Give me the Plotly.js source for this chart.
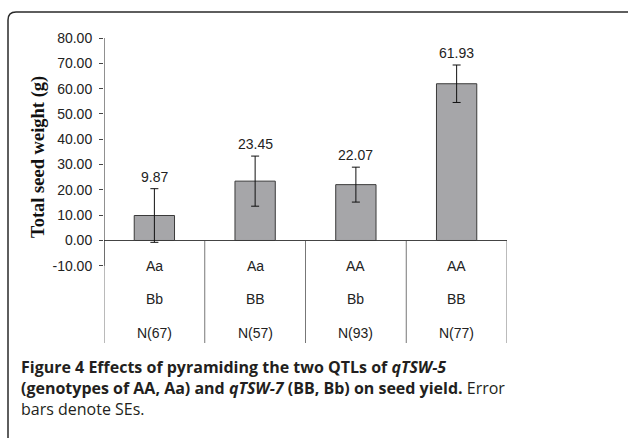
<!DOCTYPE html>
<html>
<head>
<meta charset="utf-8">
<script src="https://cdn.plot.ly/plotly-3.0.1.min.js"></script>
<style>
html,body{margin:0;padding:0;background:#fff;}
#chart{width:628px;height:438px;}
</style>
</head>
<body>
<div id="chart"></div>
<script>
// ---- data ----
var categories = ["Aa|Bb|N(67)", "Aa|BB|N(57)", "AA|Bb|N(93)", "AA|BB|N(77)"];
var genotypeA = ["Aa", "Aa", "AA", "AA"];
var genotypeB = ["Bb", "BB", "Bb", "BB"];
var sampleN = ["N(67)", "N(57)", "N(93)", "N(77)"];
var meanWeight = [9.87, 23.45, 22.07, 61.93];
var seWeight = [10.6, 9.9, 6.9, 7.4];
var yTickVals = [-10, 0, 10, 20, 30, 40, 50, 60, 70, 80];
var yTickText = yTickVals.map(function(v){ return v.toFixed(2); });

// ---- geometry (pixels) ----
var W = 628, H = 438;
var mL = 104, mR = 121, mT = 38, mB = 95;
var plotW = W - mL - mR, plotH = H - mT - mB;
var yMin = -40.5, yMax = 80;
function px2x(px){ return (px - mL) / plotW; }
function px2y(py){ return (H - mB - py) / plotH; }

var xIdx = categories.map(function(c, i){ return i; });

var trace = {
  type: "bar",
  x: xIdx,
  y: meanWeight,
  width: 0.4,
  marker: {color: "#a6a6a9", line: {color: "#3a3a3a", width: 1}},
  error_y: {type: "data", array: seWeight, visible: true, color: "#111", thickness: 1, width: 4},
  hoverinfo: "none"
};

var annotations = [];
var catFont = {family: "Liberation Sans, Arial, sans-serif", size: 14, color: "#222"};
var rowY = [-10, -23.2, -36.4];
var rows = [genotypeA, genotypeB, sampleN];
rows.forEach(function(row, r){
  row.forEach(function(t, i){
    annotations.push({x: i, y: rowY[r], xref: "x", yref: "y", text: t, showarrow: false,
      font: catFont, xanchor: "center", yanchor: "middle"});
  });
});
meanWeight.forEach(function(v, i){
  annotations.push({x: i, y: v + seWeight[i], xref: "x", yref: "y", text: v.toFixed(2),
    showarrow: false, font: catFont, xanchor: "center", yanchor: "bottom", yshift: 2});
});
// y title
annotations.push({x: px2x(38), y: px2y(157), xref: "paper", yref: "paper",
  text: "<b>Total seed weight (g)</b>", textangle: -90, showarrow: false,
  font: {family: "Liberation Serif, Times New Roman, serif", size: 18.5, color: "#111"},
  xanchor: "center", yanchor: "middle"});
// caption
var capFont = {family: "Open Sans, sans-serif", size: 16, color: "#231f20"};
var capLines = [
  "<b>Figure 4 Effects of pyramiding the two QTLs of <i>qTSW-5</i></b>",
  "<b>(genotypes of AA, Aa) and <i>qTSW-7</i> (BB, Bb) on seed yield.</b> Error",
  "bars denote SEs."
];
var capY = [367, 388, 409];
capLines.forEach(function(t, k){
  annotations.push({x: px2x(19), y: px2y(capY[k]), xref: "paper", yref: "paper", text: t,
    showarrow: false, font: capFont, xanchor: "left", yanchor: "middle", align: "left"});
});

var shapes = [];
// y axis line (dark) from -10 to 80
shapes.push({type: "line", xref: "x", yref: "y", x0: -0.5, x1: -0.5, y0: -10, y1: yMax,
  line: {color: "#222", width: 1}});
// table dividers
[-0.5, 0.5, 1.5, 2.5, 3.5].forEach(function(xb){
  shapes.push({type: "line", xref: "x", yref: "y", x0: xb, x1: xb, y0: 0, y1: yMin,
    line: {color: "#777", width: 1}, layer: "below"});
});
// frame with rounded corner
var fx = px2x(8), fy0 = px2y(445), fyc = px2y(20), fxc = px2x(16), fyt = px2y(12), fx1 = px2x(640), fxq = px2x(8);
shapes.push({type: "path", xref: "paper", yref: "paper",
  path: "M " + fx + "," + fy0 + " L " + fx + "," + fyc + " Q " + fxq + "," + fyt + " " + fxc + "," + fyt + " L " + fx1 + "," + fyt,
  line: {color: "#2a2a2a", width: 1.5}});

var layout = {
  width: W, height: H,
  margin: {l: mL, r: mR, t: mT, b: mB, pad: 0},
  paper_bgcolor: "#fff", plot_bgcolor: "rgba(0,0,0,0)",
  showlegend: false,
  xaxis: {range: [-0.5, 3.5], showticklabels: false, showgrid: false, zeroline: false,
    showline: false, ticks: "", fixedrange: true},
  yaxis: {range: [yMin, yMax], tickmode: "array", tickvals: yTickVals, ticktext: yTickText,
    showgrid: false, ticklabelstandoff: 4,
    zeroline: true, zerolinecolor: "#444", zerolinewidth: 1, showline: false,
    ticks: "outside", ticklen: 4, tickcolor: "#444", tickwidth: 1,
    tickfont: {family: "Liberation Sans, Arial, sans-serif", size: 14, color: "#222"},
    fixedrange: true},
  annotations: annotations,
  shapes: shapes
};

Plotly.newPlot("chart", [trace], layout, {displayModeBar: false, staticPlot: true});
</script>
</body>
</html>
